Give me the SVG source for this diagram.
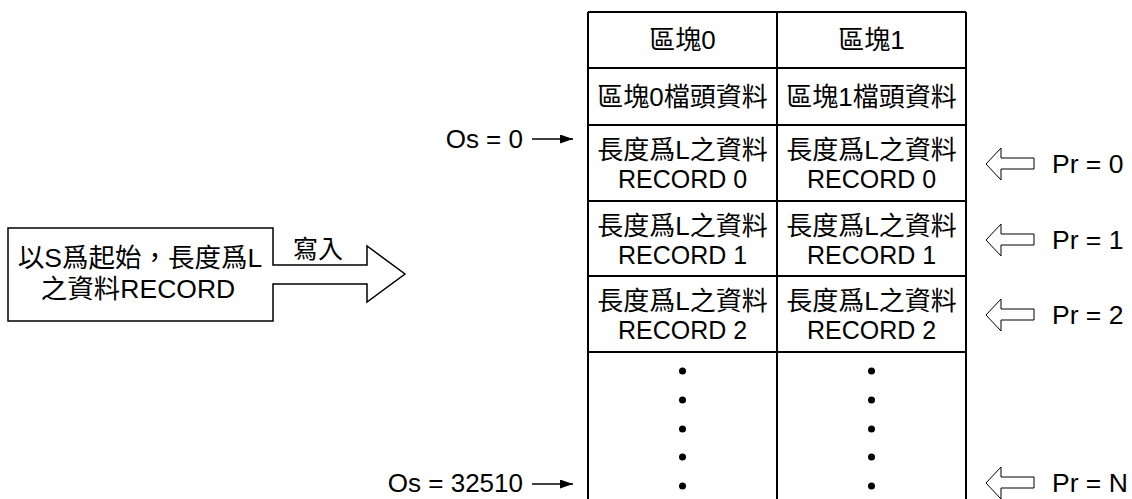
<svg xmlns="http://www.w3.org/2000/svg" width="1132" height="499" viewBox="0 0 1132 499">
<defs>
<style>
text{font-family:"Liberation Sans","Noto Sans CJK TC",sans-serif;font-size:25px;fill:#000}
.c{text-anchor:middle}
.e{text-anchor:end}
.k{font-size:26px}
.lb{font-size:26.5px}
.tl{stroke:#000;stroke-width:2;fill:none}
.ha{fill:#fff;stroke:#000;stroke-width:1}
.ln{stroke:#000;stroke-width:1.5;fill:none}
.dot{fill:#000}
</style>
<marker id="ah" markerWidth="13" markerHeight="9" refX="13" refY="4.5" orient="auto" markerUnits="userSpaceOnUse">
<path d="M0,0 L13,4.5 L0,9 Z" fill="#000"/>
</marker>
<path id="pr" d="M0,0 L15,-16 L15,-6 L48,-6 L48,5 L15,5 L15,16 Z"/>
</defs>
<rect width="1132" height="499" fill="#fff"/>

<g id="source">
<path d="M273,265 L273,228 L8,228 L8,321 L273,321 L273,284 L367,284 L367,302 L405,274 L367,246 L367,265 Z" fill="#fff" stroke="#000" stroke-width="1.5"/>
<text class="c lb" x="140" y="267">以S爲起始，長度爲L</text>
<text class="c lb" x="138" y="298">之資料RECORD</text>
<text class="c" x="318" y="258">寫入</text>
</g>

<g id="table">
<path class="tl" d="M588,12 H966 M588,12 V500 M777,12 V500 M966,12 V500 M588,68 H966 M588,125 H966 M588,201 H966 M588,276 H966 M588,352 H966"/>
</g>

<g id="block0">
<text class="c k" x="682.5" y="49">區塊0</text>
<text class="c k" x="682.5" y="106">區塊0檔頭資料</text>
<text class="c k" x="682.5" y="159">長度爲L之資料</text>
<text class="c" x="682.5" y="188">RECORD 0</text>
<text class="c k" x="682.5" y="235">長度爲L之資料</text>
<text class="c" x="682.5" y="264">RECORD 1</text>
<text class="c k" x="682.5" y="310">長度爲L之資料</text>
<text class="c" x="682.5" y="339">RECORD 2</text>
<circle class="dot" cx="682.5" cy="371" r="3.5"/>
<circle class="dot" cx="682.5" cy="400" r="3.5"/>
<circle class="dot" cx="682.5" cy="429" r="3.5"/>
<circle class="dot" cx="682.5" cy="457" r="3.5"/>
<circle class="dot" cx="682.5" cy="486" r="3.5"/>
</g>

<g id="block1">
<text class="c k" x="871.5" y="49">區塊1</text>
<text class="c k" x="871.5" y="106">區塊1檔頭資料</text>
<text class="c k" x="871.5" y="159">長度爲L之資料</text>
<text class="c" x="871.5" y="188">RECORD 0</text>
<text class="c k" x="871.5" y="235">長度爲L之資料</text>
<text class="c" x="871.5" y="264">RECORD 1</text>
<text class="c k" x="871.5" y="310">長度爲L之資料</text>
<text class="c" x="871.5" y="339">RECORD 2</text>
<circle class="dot" cx="871.5" cy="371" r="3.5"/>
<circle class="dot" cx="871.5" cy="400" r="3.5"/>
<circle class="dot" cx="871.5" cy="429" r="3.5"/>
<circle class="dot" cx="871.5" cy="457" r="3.5"/>
<circle class="dot" cx="871.5" cy="486" r="3.5"/>
</g>

<g id="os-labels">
<text class="e k" x="523" y="148">Os = 0</text>
<text class="e k" x="523" y="492">Os = 32510</text>
</g>

<g id="pr-labels">
<text class="lb" x="1052" y="173">Pr = 0</text>
<text class="lb" x="1052" y="249">Pr = 1</text>
<text class="lb" x="1052" y="324">Pr = 2</text>
<text class="lb" x="1052" y="492">Pr = N</text>
</g>

<g id="connectors">
<line class="ln" x1="532" y1="139" x2="573" y2="139" marker-end="url(#ah)"/>
<line class="ln" x1="532" y1="484" x2="573" y2="484" marker-end="url(#ah)"/>
<use href="#pr" class="ha" x="986" y="164"/>
<use href="#pr" class="ha" x="986" y="240"/>
<use href="#pr" class="ha" x="986" y="315"/>
<use href="#pr" class="ha" x="986" y="483"/>
</g>
</svg>
